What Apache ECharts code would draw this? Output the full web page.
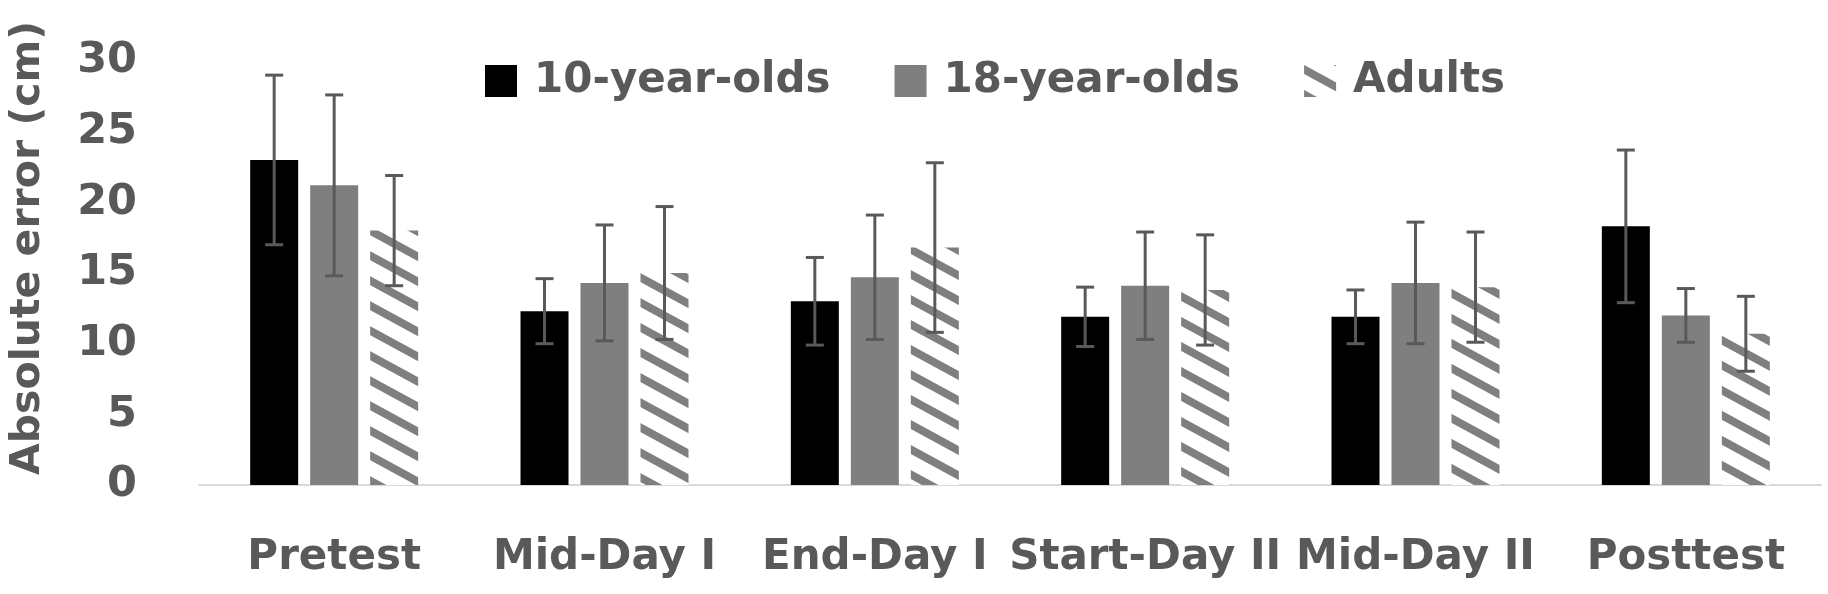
<!DOCTYPE html>
<html>
<head>
<meta charset="utf-8">
<script src="https://cdn.jsdelivr.net/npm/echarts@6/dist/echarts.min.js"></script>
<style>
  html, body { margin: 0; padding: 0; background: #fff; }
  #main { width: 1828px; height: 594px; }
</style>
</head>
<body>
<div id="main"></div>
<script>
// 数据
var categories = ['Pretest', 'Mid-Day I', 'End-Day I', 'Start-Day II', 'Mid-Day II', 'Posttest'];
var kids10 = [23.0, 12.3, 13.0, 11.9, 11.9, 18.3];
var kids10Err = [6.0, 2.3, 3.1, 2.1, 1.9, 5.4];
var teens18 = [21.2, 14.3, 14.7, 14.1, 14.3, 12.0];
var teens18Err = [6.4, 4.1, 4.4, 3.8, 4.3, 1.9];
var adults = [18.0, 15.0, 16.8, 13.8, 14.0, 10.7];
var adultsErr = [3.9, 4.7, 6.0, 3.9, 3.9, 2.65];
var yTicks = [0, 5, 10, 15, 20, 25, 30];

var textColor = '#595959';
var font = 'DejaVu Sans';

// 斜线填充图案
function makeHatch() {
    var c = document.createElement('canvas');
    c.width = 46;
    c.height = 25;
    var ctx = c.getContext('2d');
    ctx.fillStyle = '#ffffff';
    ctx.fillRect(0, 0, 46, 25);
    ctx.fillStyle = '#7f7f7f';
    for (var k = -2; k <= 2; k++) {
        ctx.beginPath();
        ctx.moveTo(0, k * 25);
        ctx.lineTo(46, k * 25 + 25);
        ctx.lineTo(46, k * 25 + 34);
        ctx.lineTo(0, k * 25 + 9);
        ctx.closePath();
        ctx.fill();
    }
    return c;
}
var hatch = {image: makeHatch(), repeat: 'repeat'};

// 误差线
function errorSeries(values, errs, offset) {
    return {
        type: 'custom',
        z: 10,
        silent: true,
        data: values.map(function (v, i) { return [i, v, errs[i]]; }),
        renderItem: function (params, api) {
            var i = api.value(0), m = api.value(1), e = api.value(2);
            var top = api.coord([i, m + e]);
            var bot = api.coord([i, m - e]);
            var x = top[0] + offset;
            var style = {stroke: '#595959', lineWidth: 3};
            return {
                type: 'group',
                children: [
                    {type: 'line', shape: {x1: x, y1: top[1], x2: x, y2: bot[1]}, style: style},
                    {type: 'line', shape: {x1: x - 9, y1: top[1], x2: x + 9, y2: top[1]}, style: style},
                    {type: 'line', shape: {x1: x - 9, y1: bot[1], x2: x + 9, y2: bot[1]}, style: style}
                ]
            };
        }
    };
}

var myChart = echarts.init(document.getElementById('main'));

var option = {
    animation: false,
    backgroundColor: '#ffffff',
    grid: {left: 188, right: 7, top: 61, bottom: 109},
    legend: {
        left: 480,
        top: 55,
        icon: 'rect',
        itemWidth: 32,
        itemHeight: 32,
        itemGap: 64,
        data: ['10-year-olds', '18-year-olds', 'Adults'],
        textStyle: {
            color: textColor,
            fontFamily: font,
            fontWeight: 'bold',
            fontSize: 42,
            padding: [0, 0, 0, 12]
        }
    },
    xAxis: {
        type: 'category',
        data: categories,
        axisTick: {show: false},
        axisLine: {lineStyle: {color: '#d9d9d9', width: 2}},
        axisLabel: {
            color: textColor,
            fontFamily: font,
            fontWeight: 'bold',
            fontSize: 42,
            margin: 52,
            interval: 0
        }
    },
    yAxis: {
        type: 'value',
        min: yTicks[0],
        max: yTicks[yTicks.length - 1],
        interval: yTicks[1] - yTicks[0],
        splitLine: {show: false},
        axisLine: {show: false},
        axisTick: {show: false},
        axisLabel: {
            color: textColor,
            fontFamily: font,
            fontWeight: 'bold',
            fontSize: 43,
            margin: 62
        },
        name: 'Absolute error (cm)',
        nameLocation: 'middle',
        nameGap: 150,
        nameTextStyle: {
            color: textColor,
            fontFamily: font,
            fontWeight: 'bold',
            fontSize: 41,
            padding: [0, 0, 0, 50]
        }
    },
    series: [
        {name: '10-year-olds', type: 'bar', data: kids10, barWidth: 48, barGap: '25%',
            itemStyle: {color: '#000000'}},
        {name: '18-year-olds', type: 'bar', data: teens18, barWidth: 48, barGap: '25%',
            itemStyle: {color: '#7f7f7f'}},
        {name: 'Adults', type: 'bar', data: adults, barWidth: 48, barGap: '25%',
            itemStyle: {color: hatch}},
        errorSeries(kids10, kids10Err, -60),
        errorSeries(teens18, teens18Err, 0),
        errorSeries(adults, adultsErr, 60)
    ]
};

myChart.setOption(option);
</script>
</body>
</html>
